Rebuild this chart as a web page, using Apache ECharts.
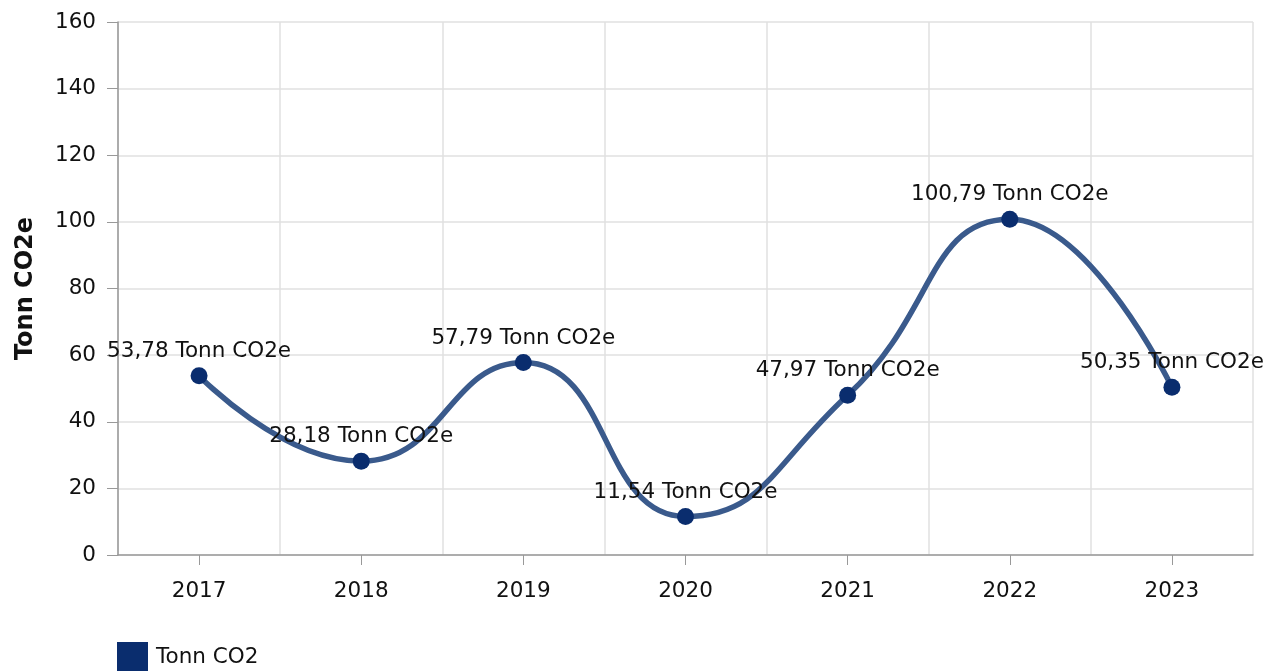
<!DOCTYPE html>
<html>
<head>
<meta charset="utf-8">
<script src="https://cdn.jsdelivr.net/npm/echarts@6/dist/echarts.min.js"></script>
<style>
html,body{margin:0;padding:0;background:#fff;}
#main{width:1269px;height:671px;}
</style>
</head>
<body>
<div id="main"></div>
<script>
var years = ['2017','2018','2019','2020','2021','2022','2023'];
var values = [53.78, 28.18, 57.79, 11.54, 47.97, 100.79, 50.35];
var seriesName = 'Tonn CO2';
var yTitle = 'Tonn CO2e';
var unit = ' Tonn CO2e';

var init = function(){
	var myChart = echarts.init(document.getElementById('main'));
	var font = 'DejaVu Sans, Verdana, sans-serif';
	var fs = 21.5;
	var option = {
		animation: false,
		textStyle: { fontFamily: font },
		grid: { left: 118, right: 16, top: 22, bottom: 116 },
		legend: {
			left: 112,
			top: 637,
			icon: 'rect',
			itemWidth: 31,
			itemHeight: 31,
			textStyle: { fontFamily: font, fontSize: fs, color: '#111', padding: [0, 0, 0, 3] },
			data: [seriesName]
		},
		xAxis: {
			type: 'category',
			data: years,
			boundaryGap: true,
			axisLine: { lineStyle: { color: '#999', width: 1.5 } },
			axisTick: { show: true, alignWithLabel: true, length: 10, lineStyle: { color: '#999' } },
			axisLabel: { fontSize: fs, color: '#111', margin: 25, fontFamily: font },
			splitLine: { show: true, lineStyle: { color: '#e0e0e0', width: 1.5 } }
		},
		yAxis: {
			type: 'value',
			min: 0,
			max: 160,
			interval: 20,
			name: yTitle,
			nameLocation: 'middle',
			nameGap: 80,
			nameTextStyle: { fontSize: 24, fontWeight: 'bold', color: '#111', fontFamily: font },
			axisLine: { show: true, lineStyle: { color: '#999', width: 1.5 } },
			axisTick: { show: true, length: 11, lineStyle: { color: '#999' } },
			axisLabel: { fontSize: fs, color: '#111', margin: 22, fontFamily: font },
			splitLine: { show: true, lineStyle: { color: '#e0e0e0', width: 1.5 } }
		},
		series: [
			{
				name: seriesName,
				type: 'line',
				data: values,
				smooth: 0.5,
				symbol: 'circle',
				symbolSize: 17,
				itemStyle: { color: '#0a2d6e' },
				lineStyle: { color: '#3a5a8c', width: 5.5 },
				label: {
					show: true,
					position: 'top',
					distance: 5,
					fontSize: fs,
					color: '#111',
					fontFamily: font,
					formatter: function(p){
						return String(p.value).replace('.', ',') + unit;
					}
				}
			}
		]
	};
	myChart.setOption(option);
}

init();
</script>
</body>
</html>
